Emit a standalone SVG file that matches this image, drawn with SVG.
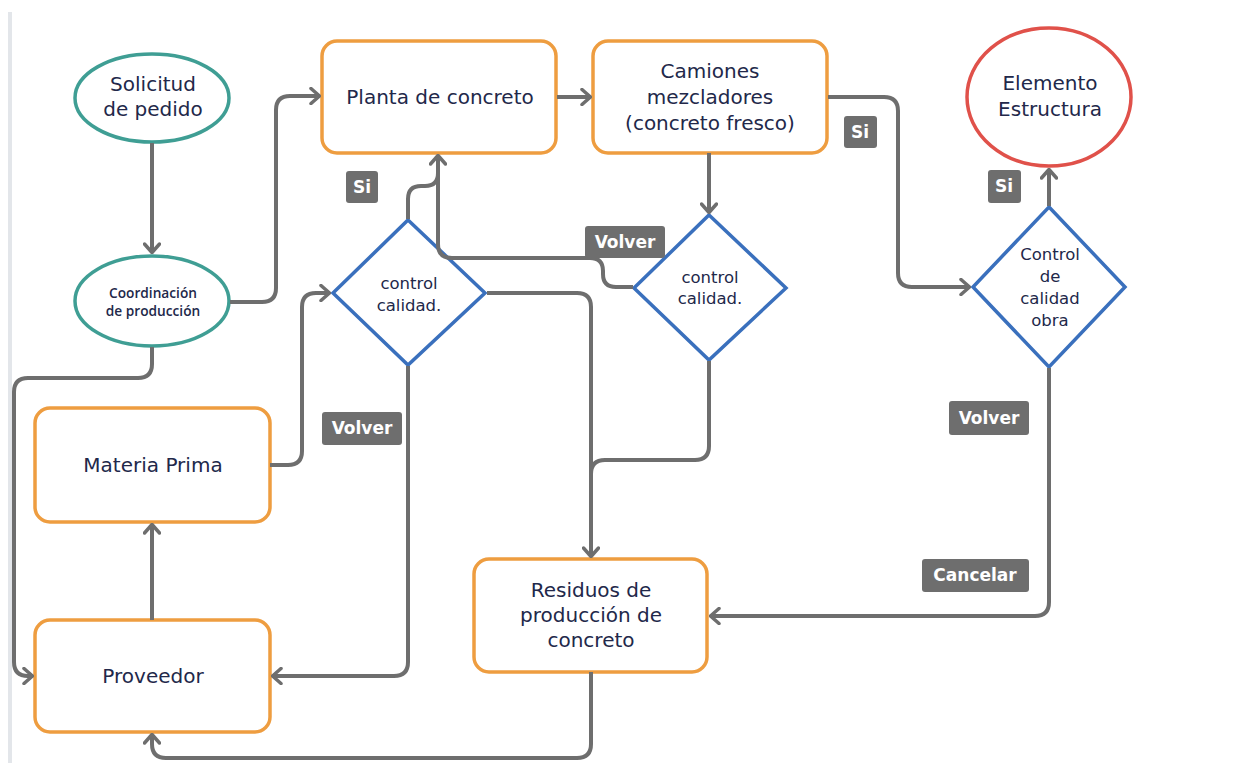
<svg xmlns="http://www.w3.org/2000/svg" width="1244" height="763" viewBox="0 0 1244 763">
<style>
.t{font-family:"DejaVu Sans","Liberation Sans",sans-serif;font-size:20px;fill:#22284a;text-anchor:middle;dominant-baseline:central}
.ts{font-family:"Open Sans","Noto Sans","Liberation Sans",sans-serif;font-size:13.7px;font-weight:600}
.tm{font-size:16.5px}
.box{fill:#fff;stroke:#ee9d40;stroke-width:3.5}
.ell{fill:#fff;stroke:#3f9e94;stroke-width:3.5}
.dia{fill:#fff;stroke:#3a70bd;stroke-width:3.5}
.c{fill:none;stroke:#6e6e6e;stroke-width:4;stroke-linejoin:round}
.a{marker-end:url(#arr)}
.lb{fill:#6e6e6e}
.lt{font-family:"DejaVu Sans","Liberation Sans",sans-serif;font-size:17px;font-weight:bold;fill:#fff;text-anchor:middle;dominant-baseline:central}
</style>
<defs>
<marker id="arr" viewBox="0 0 12 18" refX="11" refY="9" markerWidth="12" markerHeight="18" markerUnits="userSpaceOnUse" orient="auto">
<path d="M2,1.5 L10.5,9 L2,16.5" fill="none" stroke="#6e6e6e" stroke-width="3.5" stroke-linecap="round" stroke-linejoin="round"/>
</marker>
</defs>
<rect width="1244" height="763" fill="#fff"/>
<line x1="10" y1="12" x2="10" y2="763" stroke="#e3e6ea" stroke-width="4"/>
<g id="solicitud"><ellipse class="ell" cx="152" cy="98" rx="77" ry="44"/><text class="t" x="153" y="84">Solicitud</text><text class="t" x="153" y="109">de pedido</text></g>
<g id="coordinacion"><ellipse class="ell" cx="152" cy="301" rx="77" ry="45"/><text class="t ts" x="153" y="292">Coordinación</text><text class="t ts" x="153" y="310">de producción</text></g>
<g id="planta"><rect class="box" x="322" y="41" width="234" height="112" rx="15"/><text class="t" x="440" y="97">Planta de concreto</text></g>
<g id="camiones"><rect class="box" x="593" y="41" width="234" height="112" rx="15"/><text class="t" x="710" y="71">Camiones</text><text class="t" x="710" y="97">mezcladores</text><text class="t" x="710" y="123">(concreto fresco)</text></g>
<g id="elemento"><ellipse class="ell" style="stroke:#e0514a" cx="1049" cy="97" rx="82" ry="69"/><text class="t" x="1050" y="83">Elemento</text><text class="t" x="1050" y="109">Estructura</text></g>
<g id="control1"><polygon class="dia" points="408,220 485,293 408,365 333,293"/><text class="t tm" x="409" y="283">control</text><text class="t tm" x="409" y="305">calidad.</text></g>
<g id="control2"><polygon class="dia" points="709,215 786,288 709,360 634,288"/><text class="t tm" x="710" y="277">control</text><text class="t tm" x="710" y="298">calidad.</text></g>
<g id="control3"><polygon class="dia" points="1049,207 1125,287 1049,367 973,287"/><text class="t tm" x="1050" y="254">Control</text><text class="t tm" x="1050" y="276">de</text><text class="t tm" x="1050" y="298">calidad</text><text class="t tm" x="1050" y="320">obra</text></g>
<g id="materia"><rect class="box" x="35" y="408" width="235" height="114" rx="15"/><text class="t" x="153" y="465">Materia Prima</text></g>
<g id="proveedor"><rect class="box" x="35" y="620" width="235" height="112" rx="15"/><text class="t" x="153" y="676">Proveedor</text></g>
<g id="residuos"><rect class="box" x="474" y="559" width="233" height="113" rx="15"/><text class="t" x="591" y="590">Residuos de</text><text class="t" x="591" y="615">producción de</text><text class="t" x="591" y="640">concreto</text></g>
<g id="connectors">
<path class="c a" d="M152,143 V253"/>
<path class="c a" d="M230,302 H262 Q276,302 276,288 V110 Q276,96 290,96 H320"/>
<path class="c a" d="M557,97 H591"/>
<path class="c a" d="M828,97 H884 Q898,97 898,111 V273 Q898,287 912,287 H970"/>
<path class="c a" d="M709,153 V213"/>
<path class="c a" d="M1049,206 V169"/>
<path class="c a" d="M1049,368 V602 Q1049,616 1035,616 H710"/>
<path class="c" d="M709,361 V446 Q709,460 695,460 H605 Q591,460 591,474 V520"/>
<path class="c a" d="M487,293 H577 Q591,293 591,307 V557"/>
<path class="c" d="M408,219 V199 Q408,186 421,186 H425 Q438,186 438,173"/>
<path class="c a" d="M633,287 H616 Q603,287 603,274 V271 Q603,258 590,258 H452 Q438,258 438,244 V155"/>
<path class="c a" d="M270,465 H288 Q302,465 302,451 V307 Q302,293 316,293 H330"/>
<path class="c a" d="M408,366 V662 Q408,676 394,676 H272"/>
<path class="c a" d="M152,347 V364 Q152,378 138,378 H28 Q14,378 14,392 V662 Q14,676 28,676 H33"/>
<path class="c a" d="M152,620 V524"/>
<path class="c a" d="M591,672 V744 Q591,758 577,758 H166 Q152,758 152,744 V734"/>
</g>
<g id="labels">
<rect class="lb" x="346" y="171" width="32" height="32" rx="3"/><text class="lt" x="362" y="187">Si</text>
<rect class="lb" x="585" y="226" width="80" height="32" rx="3"/><text class="lt" x="625" y="242">Volver</text>
<rect class="lb" x="844" y="116" width="33" height="32" rx="3"/><text class="lt" x="860" y="132">Si</text>
<rect class="lb" x="988" y="170" width="33" height="33" rx="3"/><text class="lt" x="1004" y="186">Si</text>
<rect class="lb" x="322" y="412" width="80" height="33" rx="3"/><text class="lt" x="362" y="428">Volver</text>
<rect class="lb" x="949" y="401" width="80" height="34" rx="3"/><text class="lt" x="989" y="418">Volver</text>
<rect class="lb" x="922" y="559" width="107" height="33" rx="3"/><text class="lt" x="975" y="575">Cancelar</text>
</g>
</svg>
